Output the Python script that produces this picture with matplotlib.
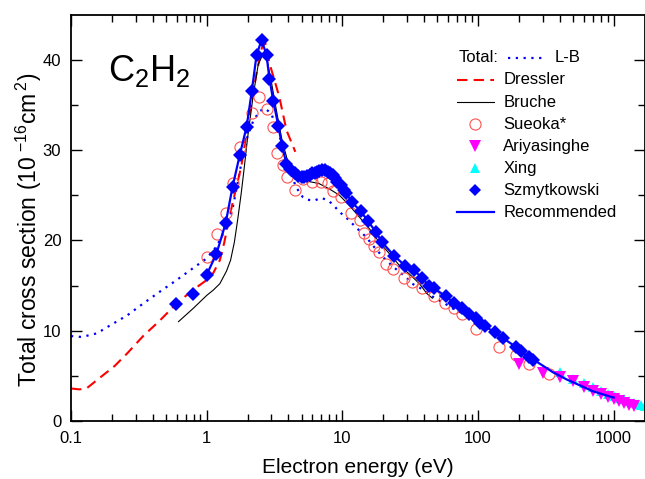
import matplotlib
matplotlib.use("Agg")
import matplotlib.pyplot as plt
from matplotlib.ticker import FixedLocator, NullFormatter

plt.rcParams['font.family'] = ['Liberation Sans', 'DejaVu Sans']
plt.rcParams['mathtext.default'] = 'regular'

# L-B (total)
lb_E = [0.1, 0.12, 0.155, 0.19, 0.26, 0.34, 0.45, 0.6, 0.79, 1.0, 1.18, 1.4, 1.55, 1.7, 1.85, 2.0,
        2.2, 2.45, 2.7, 3.0, 3.5, 3.87, 4.2, 4.6, 5.1, 5.5, 6.2, 7.0, 7.9, 8.7, 9.6, 10.7, 13.3,
        14.9, 17.7, 21, 24, 29.6, 32.7, 38.7, 47, 57, 66, 75, 82, 95]
lb_S = [9.4, 9.3, 9.7, 10.5, 11.7, 13.0, 14.3, 15.6, 16.9, 18.0, 19.3, 21.5, 23.5, 26.5, 29.5, 31.5,
        33.2, 34.3, 34.6, 34.0, 31.2, 28.9, 27.2, 25.8, 24.8, 24.5, 24.4, 24.7, 24.4, 23.8, 23.1, 22.5, 21.1,
        20.4, 19.0, 17.8, 17.0, 15.9, 15.2, 14.6, 13.7, 13.0, 12.4, 12.0, 11.7, 11.0]

# Dressler
dr_E = [0.1, 0.115, 0.13, 0.17, 0.21, 0.26, 0.34, 0.45, 0.6, 0.79, 1.0, 1.12, 1.25, 1.35, 1.47,
        1.62, 1.8, 2.07, 2.33, 2.55, 2.7, 2.9, 3.15, 3.44, 3.87, 4.5]
dr_S = [3.6, 3.5, 3.6, 5.0, 6.1, 7.5, 9.4, 11.1, 13.0, 14.5, 15.6, 16.4, 17.8, 19.8, 22.6,
        25.3, 28.2, 34.0, 38.5, 41.3, 41.9, 39.6, 37.8, 35.8, 32.2, 29.8]

# Bruche
br_E = [0.62, 0.8, 1.0, 1.12, 1.25, 1.4, 1.5, 1.6, 1.7, 1.8, 1.9, 2.0, 2.2, 2.4, 2.6, 2.8, 3.0,
        3.3, 3.6, 4.0, 4.6, 5.7, 6.7, 8.0, 9.5, 11.2, 13.3, 15.8, 18.7, 22.3, 26.4, 31, 37, 42, 46]
br_S = [11.0, 12.5, 13.9, 14.5, 15.2, 16.6, 17.8, 19.8, 22.5, 25.3, 28.3, 31.3, 36.0, 39.5, 40.6, 39.8,
        37.5, 34.0, 31.0, 28.5, 27.0, 26.5, 26.3, 25.7, 25.0, 23.9, 22.6, 21.3, 19.8, 18.5, 17.2, 16.3,
        15.2, 14.1, 13.6]

# Sueoka*
su_E = [1.0, 1.19, 1.38, 1.57, 1.76, 2.14, 2.44, 2.76, 3.07, 3.32, 3.63, 3.9, 4.45, 5.1, 6.0, 6.9,
        7.8, 8.5, 9.85, 11.6, 13.5, 14.5, 15.8, 17.2, 18.7, 21, 23.7, 28.5, 32.6, 38.7, 47.4, 57,
        66.5, 76.4, 96, 143, 190, 236, 335]
su_S = [18.2, 20.7, 23.0, 26.3, 30.3, 34.1, 35.9, 34.5, 32.6, 29.7, 28.3, 27.0, 25.6, 26.8, 26.5, 26.5,
        26.3, 25.5, 24.8, 23.0, 22.2, 20.8, 20.1, 19.4, 18.7, 17.4, 16.8, 15.8, 15.4, 14.7, 13.8, 13.1,
        12.5, 11.9, 10.2, 8.2, 7.3, 6.3, 5.2]

# Ariyasinghe
ar_E = [200, 300, 400, 500, 600, 700, 800, 900, 1000, 1100, 1200, 1300, 1400]
ar_S = [6.3, 5.3, 4.9, 4.4, 3.8, 3.3, 3.0, 2.7, 2.4, 2.2, 2.0, 1.8, 1.7]

# Xing
xi_E = [400, 500, 600, 700, 800, 900, 1000, 1100, 1200, 1300, 1400, 1500, 1600, 1700]
xi_S = [5.4, 4.7, 4.2, 3.8, 3.3, 3.0, 2.8, 2.6, 2.4, 2.2, 2.0, 1.9, 1.8, 1.7]

# Szmytkowski
sz_E = [0.59, 0.79, 1.0, 1.18, 1.38, 1.55, 1.75, 1.97, 2.15, 2.33, 2.54, 2.76, 2.9, 3.1, 3.37,
        3.6, 3.87, 4.1, 4.45, 4.75, 5.0, 5.25, 5.5, 5.75, 6.0, 6.25, 6.5, 6.75, 7.1, 7.4, 7.8,
        8.1, 8.5, 8.8, 9.2, 9.7, 10.2, 10.7, 11.8, 13.7, 15.5, 17.7, 19.6, 24, 29, 33.8, 38.7,
        43.5, 47.4, 57.7, 66.5, 76.4, 86, 96, 103, 112, 133, 152, 190, 206, 236, 256]
sz_S = [12.9, 14.1, 16.2, 18.5, 21.9, 25.9, 29.4, 32.6, 36.5, 40.5, 42.2, 40.5, 37.9, 35.4, 32.7,
        30.4, 28.5, 27.9, 27.4, 27.1, 27.0, 27.0, 27.1, 27.2, 27.4, 27.5, 27.6, 27.7, 27.8, 27.8, 27.6,
        27.4, 27.2, 26.9, 26.5, 26.1, 25.6, 25.2, 24.2, 23.2, 22.1, 20.9, 19.8, 18.3, 17.2, 16.7, 15.8,
        15.0, 14.7, 13.8, 13.1, 12.5, 11.9, 11.4, 10.9, 10.5, 9.8, 9.2, 8.2, 7.7, 7.1, 6.8]

# Recommended: Szmytkowski from 1 eV, then the high energy tail
rec_tail_E = [356, 450, 562, 700, 962, 1000]
rec_tail_S = [5.4, 4.6, 3.95, 3.3, 2.66, 2.6]
rec_E = sz_E[2:] + rec_tail_E
rec_S = sz_S[2:] + rec_tail_S

fig = plt.figure(figsize=(6.45, 4.79), dpi=100)
ax = fig.add_axes([71 / 645, 1 - 421 / 479, 574 / 645, 406.5 / 479])

ax.plot(lb_E, lb_S, color='blue', ls=(0, (1, 2.5)), lw=1.6)
ax.plot(dr_E, dr_S, color='red', ls=(0, (5, 3)), lw=1.5)
ax.plot(br_E, br_S, color='black', lw=0.8)
ax.plot(su_E, su_S, 'o', mfc='none', mec='#ff5050', ms=8, mew=0.8)
ax.plot(xi_E, xi_S, '^', color='cyan', ms=7, mew=0)
ax.plot(ar_E, ar_S, 'v', color='magenta', ms=8, mew=0)
ax.plot(sz_E, sz_S, 'D', color='blue', ms=7, mew=0)
ax.plot(rec_E, rec_S, color='blue', lw=1.6)

ax.set_xscale('log')
ax.set_xlim(0.1, 1700)
ax.set_ylim(0, 45)
ax.set_xticks([0.1, 1, 10, 100, 1000])
ax.set_xticklabels(['0.1', '1', '10', '100', '1000'])
ax.xaxis.set_minor_locator(FixedLocator([m * 10.0 ** d for d in range(-1, 3) for m in range(2, 10)]))
ax.xaxis.set_minor_formatter(NullFormatter())
ax.set_yticks([0, 10, 20, 30, 40])
ax.set_yticks([5, 15, 25, 35], minor=True)
ax.tick_params(which='both', direction='in', top=True, right=True, width=1, labelsize=12)
ax.tick_params(which='major', length=8, pad=7)
ax.tick_params(which='minor', length=5)
for s in ax.spines.values():
    s.set_linewidth(1.3)

ax.set_xlabel('Electron energy (eV)', fontsize=15, labelpad=9)
ax.set_ylabel('Total cross section (10$^{\\ {-}16}$cm$^{\\,2}$)', fontsize=16.5)
ax.yaxis.set_label_coords(-0.047, 0.47)

ax.text(0.064, 0.862, 'C$_2$H$_2$', fontsize=26, transform=ax.transAxes, va='center')

# legend
tr = ax.transAxes
ax.text(0.676, 0.893, 'Total:', fontsize=12, transform=tr, va='center')
ax.plot([0.761, 0.826], [0.893, 0.893], color='blue', ls=(0, (1, 2.5)), lw=1.6, transform=tr)
ax.text(0.843, 0.893, 'L-B', fontsize=12, transform=tr, va='center')

rows = [
    ('Dressler', dict(color='red', ls=(0, (5, 3)), lw=1.5), None),
    ('Bruche', dict(color='black', lw=0.8), None),
    ('Sueoka*', None, dict(marker='o', mfc='none', mec='#ff5050', ms=8, mew=0.8)),
    ('Ariyasinghe', None, dict(marker='v', color='magenta', ms=8, mew=0)),
    ('Xing', None, dict(marker='^', color='cyan', ms=7, mew=0)),
    ('Szmytkowski', None, dict(marker='D', color='blue', ms=6.5, mew=0)),
    ('Recommended', dict(color='blue', lw=1.6), None),
]
y0, dy = 0.839, 0.0543
for i, (lab, line_kw, mk_kw) in enumerate(rows):
    y = y0 - i * dy
    if line_kw:
        ax.plot([0.672, 0.737], [y, y], transform=tr, **line_kw)
    if mk_kw:
        ax.plot([0.7045], [y], ls='none', transform=tr, **mk_kw)
    ax.text(0.753, y, lab, fontsize=12, transform=tr, va='center')

fig.savefig('out.png', dpi=100)
